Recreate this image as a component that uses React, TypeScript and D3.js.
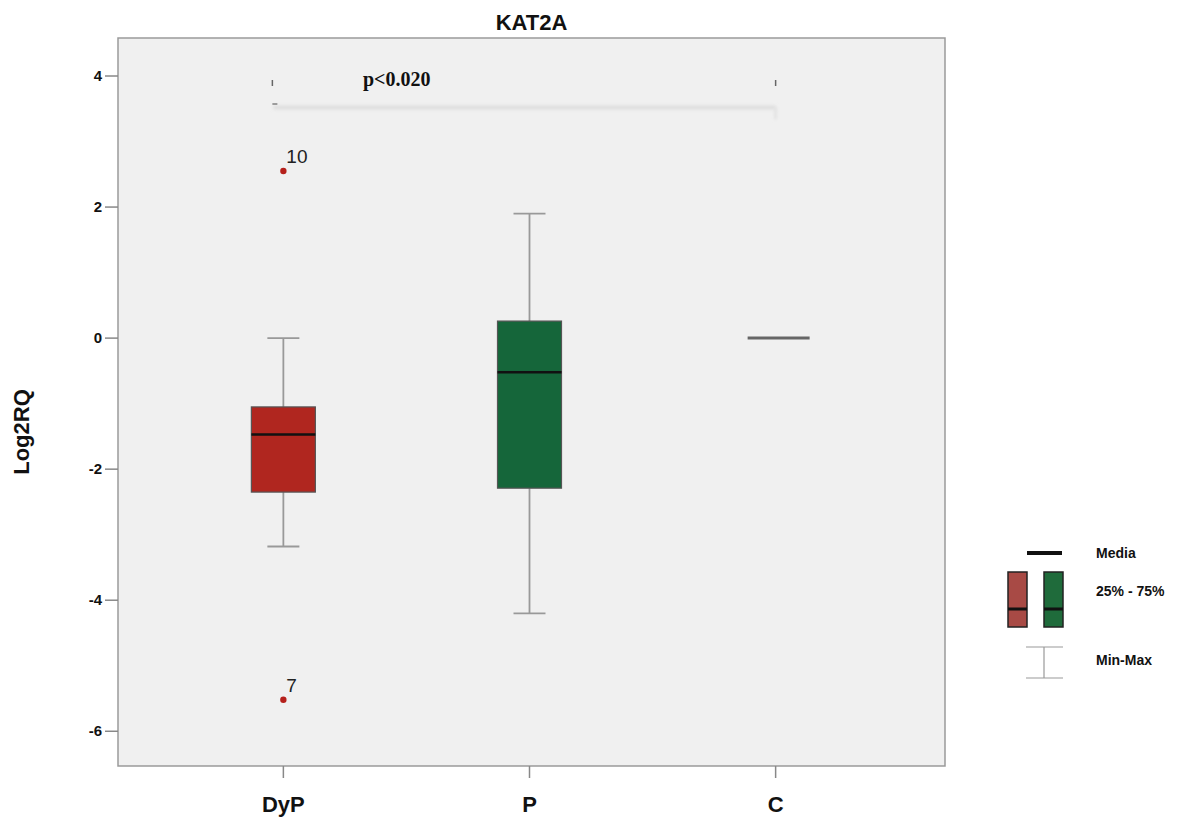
import React from "react";
import * as d3 from "d3";

const categories = ["DyP", "P", "C"];
const whiskerLow = [-3.18, -4.2, 0];
const q1 = [-2.35, -2.29, 0];
const median = [-1.47, -0.52, 0];
const q3 = [-1.05, 0.26, 0];
const whiskerHigh = [0.0, 1.9, 0];
const boxColors = ["#b0261f", "#15663a", "#888888"];
const outlierCat = ["DyP", "DyP"];
const outlierVal = [2.55, -5.52];
const outlierLabel = ["10", "7"];
const yTicks = [4, 2, 0, -2, -4, -6];
const pText = "p<0.020";

export default function App() {
  const W = 1189, H = 817;
  const left = 118, right = 945, top = 38, bottom = 766;
  const y = d3.scaleLinear().domain([-6.53, 4.58]).range([bottom, top]);
  const x = d3.scalePoint<string>().domain(categories).range([left - 2, right - 2]).padding(0.68);
  const bw = 64;
  const cap = 32;
  const by = y(3.52);
  return (
    <svg width={W} height={H} style={{ position: "absolute", left: 0, top: 0, background: "#fff" }}>
      <defs>
        <filter id="sh" filterUnits="userSpaceOnUse" x="0" y="0" width={W} height={H}>
          <feGaussianBlur stdDeviation="1.5" />
        </filter>
      </defs>
      <rect x={left} y={top} width={right - left} height={bottom - top} fill="#f0f0f0" stroke="#9a9a9a" strokeWidth={1.5} />
      <text x={(left + right) / 2} y={30} textAnchor="middle" fontFamily="Liberation Sans, Arial" fontWeight="bold" fontSize={22} fill="#111">KAT2A</text>
      {yTicks.map((t) => (
        <g key={t}>
          <line x1={left - 13} x2={left} y1={y(t)} y2={y(t)} stroke="#888" strokeWidth={1.5} />
          <text x={left - 16} y={y(t) + 5} textAnchor="end" fontFamily="Liberation Sans, Arial" fontWeight="bold" fontSize={15} fill="#111">{t}</text>
        </g>
      ))}
      <text transform={`translate(29,${(top + bottom) / 2 + 30}) rotate(-90)`} textAnchor="middle" fontFamily="Liberation Sans, Arial" fontWeight="bold" fontSize={22} fill="#111">Log2RQ</text>
      {categories.map((c) => (
        <g key={c}>
          <line x1={x(c)!} x2={x(c)!} y1={bottom} y2={bottom + 12} stroke="#888" strokeWidth={1.5} />
          <text x={x(c)!} y={bottom + 46} textAnchor="middle" fontFamily="Liberation Sans, Arial" fontWeight="bold" fontSize={22} fill="#111">{c}</text>
        </g>
      ))}
      {/* significance bracket */}
      <g>
        <line x1={x("DyP")! - 10} x2={x("C")!} y1={by} y2={by} stroke="#dedede" strokeWidth={4} filter="url(#sh)" />
        <line x1={x("C")!} x2={x("C")!} y1={by} y2={by + 12} stroke="#e2e2e2" strokeWidth={3} filter="url(#sh)" />
        <line x1={x("DyP")! - 11} x2={x("DyP")! - 11} y1={80} y2={86} stroke="#666" strokeWidth={1.5} />
        <line x1={x("DyP")! - 11} x2={x("DyP")! - 6} y1={104} y2={104} stroke="#666" strokeWidth={1.2} />
        <line x1={x("C")!} x2={x("C")!} y1={80} y2={86} stroke="#666" strokeWidth={1.5} />
        <text x={363} y={86} fontFamily="Liberation Serif, Times New Roman" fontWeight="bold" fontSize={20} fill="#111">{pText}</text>
      </g>
      {categories.map((c, i) => {
        const cx = x(c)!;
        if (q1[i] === q3[i]) {
          return (
            <line key={c} x1={cx - 28} x2={cx + 34} y1={y(median[i])} y2={y(median[i])} stroke="#666" strokeWidth={3} />
          );
        }
        return (
          <g key={c}>
            <line x1={cx} x2={cx} y1={y(whiskerHigh[i])} y2={y(q3[i])} stroke="#999" strokeWidth={1.8} />
            <line x1={cx} x2={cx} y1={y(q1[i])} y2={y(whiskerLow[i])} stroke="#999" strokeWidth={1.8} />
            <line x1={cx - cap / 2} x2={cx + cap / 2} y1={y(whiskerHigh[i])} y2={y(whiskerHigh[i])} stroke="#999" strokeWidth={1.8} />
            <line x1={cx - cap / 2} x2={cx + cap / 2} y1={y(whiskerLow[i])} y2={y(whiskerLow[i])} stroke="#999" strokeWidth={1.8} />
            <rect x={cx - bw / 2} y={y(q3[i])} width={bw} height={y(q1[i]) - y(q3[i])} fill={boxColors[i]} stroke="#555" strokeWidth={1.2} />
            <line x1={cx - bw / 2} x2={cx + bw / 2} y1={y(median[i])} y2={y(median[i])} stroke="#111" strokeWidth={2.5} />
          </g>
        );
      })}
      {outlierVal.map((v, i) => (
        <g key={i}>
          <circle cx={x(outlierCat[i])!} cy={y(v)} r={3.2} fill="#b5201b" />
          <text x={x(outlierCat[i])! + 3} y={y(v) - 8} fontFamily="Liberation Sans Narrow, Liberation Sans, Arial" fontSize={19} fill="#222">{outlierLabel[i]}</text>
        </g>
      ))}
      {/* legend */}
      <g fontFamily="Liberation Sans, Arial" fontWeight="bold" fontSize={14} fill="#111">
        <line x1={1027} x2={1062} y1={553} y2={553} stroke="#111" strokeWidth={4} />
        <text x={1096} y={558}>Media</text>
        <rect x={1008} y={572} width={19} height={55} fill="#a84a45" stroke="#222" strokeWidth={1.5} />
        <line x1={1008} x2={1027} y1={609} y2={609} stroke="#111" strokeWidth={3} />
        <rect x={1044} y={572} width={19} height={55} fill="#1f6b3b" stroke="#222" strokeWidth={1.5} />
        <line x1={1044} x2={1063} y1={609} y2={609} stroke="#111" strokeWidth={3} />
        <text x={1096} y={596}>25% - 75%</text>
        <line x1={1026} x2={1063} y1={647} y2={647} stroke="#999" strokeWidth={1.2} />
        <line x1={1026} x2={1063} y1={678} y2={678} stroke="#999" strokeWidth={1.2} />
        <line x1={1044} x2={1044} y1={647} y2={678} stroke="#999" strokeWidth={1.2} />
        <text x={1096} y={665}>Min-Max</text>
      </g>
    </svg>
  );
}
